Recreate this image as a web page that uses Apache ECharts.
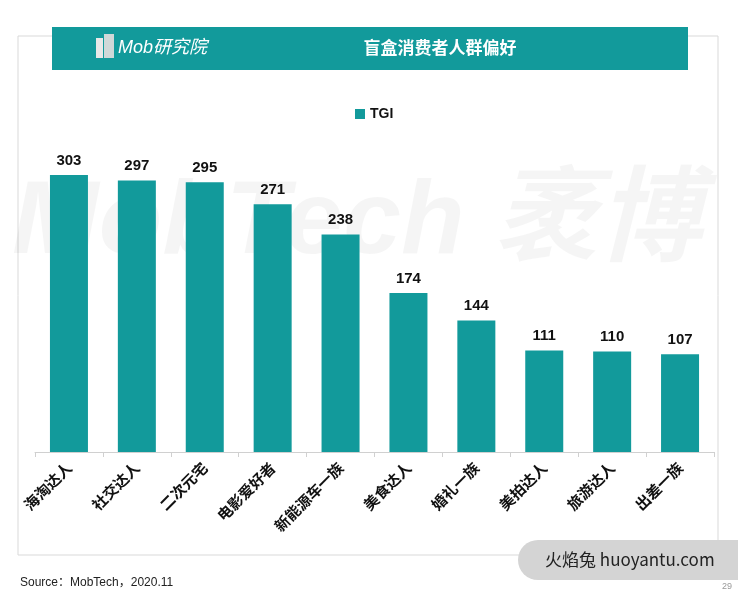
<!DOCTYPE html>
<html><head><meta charset="utf-8">
<script src="https://cdn.jsdelivr.net/npm/echarts@6/dist/echarts.min.js"></script>
<style>html,body{margin:0;padding:0;background:#fff}#c{width:738px;height:595px}</style>
</head><body><div id="c"></div>
<script>
const categories = ['海淘达人','社交达人','二次元宅','电影爱好者','新能源车一族','美食达人','婚礼一族','美拍达人','旅游达人','出差一族'];
const tgiValues = [303,297,295,271,238,174,144,111,110,107];
const seriesName = 'TGI';
const titleText = '盲盒消费者人群偏好';
const sourceText = 'Source：MobTech，2020.11';

const teal = '#129a9b';
const chart = echarts.init(document.getElementById('c'));
chart.setOption({
  animation: false,
  graphic: [
    {type:'rect', shape:{x:18,y:36,width:700,height:519}, style:{fill:'none', stroke:'#d9d9d9', lineWidth:1}, z:-10},
    {type:'text', left:12, top:172, style:{text:'MobTech 袤博', fontSize:104, fontWeight:'bold', fontStyle:'italic', fill:'rgba(0,0,0,0.04)', fontFamily:'Liberation Sans, Noto Sans CJK SC'}, z:-5},
    {type:'rect', shape:{x:52,y:27,width:636,height:43}, style:{fill:teal}, z:5},
    {type:'text', x:440, y:48, style:{text:titleText, fontSize:17, fontWeight:'bold', fill:'#fff', align:'center', verticalAlign:'middle', fontFamily:'Noto Sans CJK SC'}, z:6},
    {type:'rect', shape:{x:96,y:38,width:7,height:20}, style:{fill:'#e8e8e8'}, z:6},
    {type:'rect', shape:{x:104,y:34,width:10,height:24}, style:{fill:'#cfd8d8'}, z:6},
    {type:'text', x:118, y:48, style:{text:'Mob研究院', fontSize:18, fontStyle:'italic', fill:'#fff', verticalAlign:'middle', fontFamily:'Liberation Sans, Noto Sans CJK SC'}, z:6},
    {type:'rect', shape:{x:518,y:540,width:240,height:40,r:20}, style:{fill:'#d4d4d4'}, z:6},
    {type:'text', x:545, y:560, style:{text:'火焰兔 huoyantu.com', fontSize:17, fill:'#222', verticalAlign:'middle', fontFamily:'Noto Sans CJK SC'}, z:7},
    {type:'text', x:20, y:583, style:{text:sourceText, fontSize:12, fill:'#222', verticalAlign:'middle', fontFamily:'Liberation Sans, Noto Sans CJK SC'}},
    {type:'text', x:722, y:587, style:{text:'29', fontSize:9, fill:'#999', verticalAlign:'middle', fontFamily:'Liberation Sans'}}
  ],
  legend: {
    data:[seriesName], left:350, top:102, itemWidth:10, itemHeight:10, icon:'rect',
    textStyle:{fontSize:14, fontWeight:'bold', color:'#111', fontFamily:'Liberation Sans'}
  },
  grid: {left:35, right:24, top:86.4, bottom:143, containLabel:false},
  xAxis: {
    type:'category', data:categories,
    axisLine:{lineStyle:{color:'#d0d0d0'}},
    axisTick:{show:true, lineStyle:{color:'#d0d0d0'}, length:5},
    axisLabel:{rotate:45, color:'#111', fontWeight:'bold', fontSize:15, margin:13, interval:0, fontFamily:'Noto Sans CJK SC'}
  },
  yAxis: {type:'value', min:0, max:400, show:false, splitLine:{show:false}},
  series: [{
    name:seriesName, type:'bar', data:tgiValues, barWidth:38,
    itemStyle:{color:teal},
    label:{show:true, position:'top', fontWeight:'bold', fontSize:15, color:'#111', distance:7, fontFamily:'Liberation Sans'}
  }]
});
</script></body></html>
